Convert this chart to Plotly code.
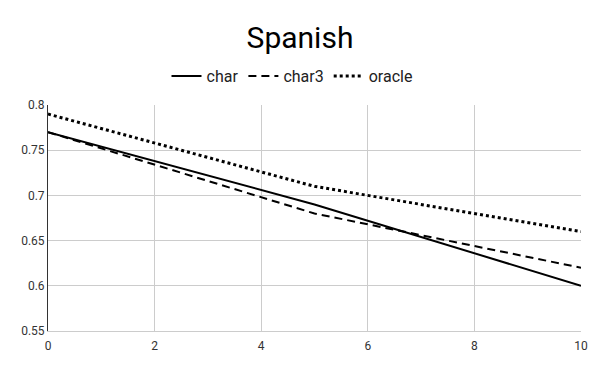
import plotly.graph_objects as go

x_vals = [0, 5, 10]
char = [0.77, 0.69, 0.60]
char3 = [0.77, 0.68, 0.62]
oracle = [0.79, 0.71, 0.66]
x_ticks = [0, 2, 4, 6, 8, 10]
y_ticks = [0.55, 0.6, 0.65, 0.7, 0.75, 0.8]
y_tick_text = ["0.55", "0.6", "0.65", "0.7", "0.75", "0.8"]

fig = go.Figure()
fig.add_trace(go.Scatter(x=x_vals, y=char, name="char", mode="lines",
                         line=dict(color="black", width=2, dash="solid")))
fig.add_trace(go.Scatter(x=x_vals, y=char3, name="char3", mode="lines",
                         line=dict(color="black", width=2, dash="8px,5px")))
fig.add_trace(go.Scatter(x=x_vals, y=oracle, name="oracle", mode="lines",
                         line=dict(color="black", width=3, dash="3px,3px")))

H = 371
fig.update_layout(
    width=600, height=H,
    paper_bgcolor="white", plot_bgcolor="white",
    font=dict(family="Roboto, Arial, sans-serif", color="#222"),
    title=dict(text="Spanish", x=(300 - 8) / 600, xanchor="center", y=1 - 29 / H,
               yanchor="middle", font=dict(size=30, color="black")),
    legend=dict(orientation="h", x=(284 - 40) / 533, xanchor="center",
                y=(H - 48 - 68) / 226, yanchor="middle",
                font=dict(size=16, color="#222"), itemwidth=30),
    margin=dict(l=40, r=27, t=97, b=48, autoexpand=False),
    showlegend=True,
)
fig.update_xaxes(range=[0, 10], tickvals=x_ticks, showgrid=True, gridcolor="#cccccc",
                 zeroline=False, showline=True, linecolor="#cccccc", ticks="",
                 ticklabelstandoff=4,
                 automargin=False, tickfont=dict(size=12, color="#333"))
fig.update_yaxes(range=[0.55, 0.8], tickvals=y_ticks, ticktext=y_tick_text,
                 showgrid=True, gridcolor="#cccccc", zeroline=False,
                 showline=True, linecolor="#333333", ticks="",
                 automargin=False, tickfont=dict(size=12, color="#333"))

fig.write_html("out.html")
